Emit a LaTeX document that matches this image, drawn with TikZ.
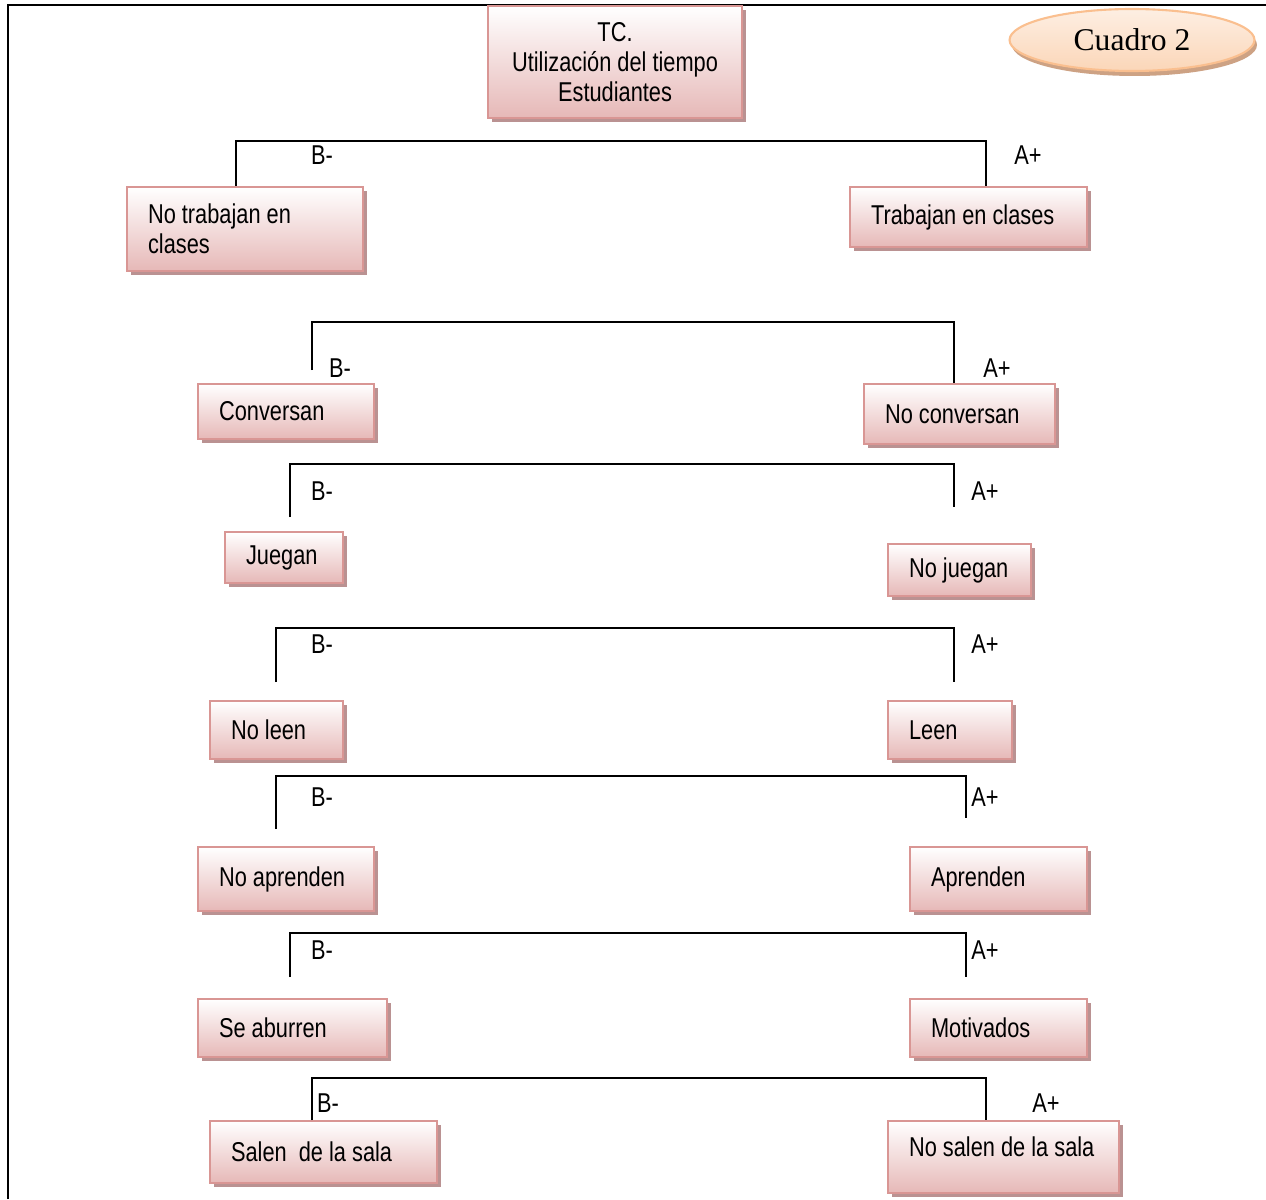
\documentclass[tikz,border=0pt]{standalone}
\usepackage{fontspec}
\usepackage{tikz}
\usetikzlibrary{shapes.geometric, shadows}
\newfontfamily\arialn[FakeStretch=0.8]{Liberation Sans}
\newfontfamily\timesf{Liberation Serif}
\newcommand\letrac{\arialn\fontsize{15.5}{17}\selectfont}
\definecolor{rosaborde}{RGB}{217, 150, 148}
\definecolor{rosafondo}{RGB}{230, 184, 183}
\definecolor{rosasombra}{RGB}{186, 146, 146}
\definecolor{durazno}{RGB}{250, 191, 143}
\definecolor{duraznofondo}{RGB}{251, 214, 184}
\definecolor{duraznosombra}{RGB}{205, 162, 132}
\tikzset{
  caja/.style={draw=rosaborde, line width=1.2pt, top color=white, bottom color=rosafondo,
    drop shadow={shadow xshift=0.08cm, shadow yshift=-0.08cm, fill=rosasombra, opacity=1},
    anchor=north west, inner xsep=0.42cm, inner ysep=0pt, align=flush left,
    execute at begin node={\hyphenpenalty=10000},
    font=\letrac},
  rama/.style={line width=1pt},
  signo/.style={inner sep=0pt, font=\letrac}
}
\begin{document}
\begin{tikzpicture}[x=0.02cm, y=-0.02cm]
\useasboundingbox (0,0) rectangle (1266,1199);
\draw[line width=1.5pt] (8,1199) -- (8,5) -- (1266,5);
\node[draw=durazno, line width=1.2pt, ellipse, top color=white!60!duraznofondo, bottom color=duraznofondo,
  drop shadow={shadow xshift=0.05cm, shadow yshift=-0.1cm, fill=duraznosombra, opacity=1},
  minimum width=4.9cm, minimum height=1.24cm, inner sep=0pt, font=\timesf\fontsize{18}{20}\selectfont]
  (cuadro) at (1132,40) {Cuadro 2};
\node[caja, align=flush center, text width=4.24cm, minimum height=2.24cm] (tc) at (487,5)
  {TC.\\Utilización del tiempo\\Estudiantes};

\node[caja, text width=3.88cm, minimum height=1.68cm] (noTrab) at (126,186) {No trabajan en\\clases};
\node[caja, text width=3.9cm, minimum height=1.2cm] (trab) at (849,186) {\mbox{Trabajan en clases}};
\draw[rama] (noTrab.north -| 236,0) -- ++(0,-45) -| (trab.north -| 986,0);
\node[signo] (b1) at (322,155) {B-};
\node[signo] (a1) at (1028,155) {A+};

\node[caja, text width=2.68cm, minimum height=1.1cm] (conv) at (197,383) {Conversan};
\node[caja, text width=2.98cm, minimum height=1.2cm] (noConv) at (863,383) {\mbox{No conversan}};
\coordinate (ramaB2) at (312,370);
\draw[rama] (ramaB2) -- ++(0,-48) -| (noConv.north -| 954,0);
\node[signo] (b2) at (340,368) {B-};
\node[signo] (a2) at (997,368) {A+};

\node[caja, text width=1.52cm, minimum height=1.02cm] (jueg) at (224,531) {Juegan};
\node[caja, text width=2.02cm, minimum height=1.04cm] (noJueg) at (887,543) {\mbox{No juegan}};
\coordinate (ramaB3) at (290,517);
\coordinate (ramaA3) at (954,507);
\draw[rama] (ramaB3) -- ++(0,-53) -| (ramaA3);
\node[signo] (b3) at (322,491) {B-};
\node[signo] (a3) at (985,491) {A+};

\node[caja, text width=1.82cm, minimum height=1.16cm] (noLeen) at (209,700) {\mbox{No leen}};
\node[caja, text width=1.64cm, minimum height=1.16cm] (leen) at (887,700) {Leen};
\coordinate (ramaB4) at (276,682);
\coordinate (ramaA4) at (954,682);
\draw[rama] (ramaB4) -- ++(0,-54) -| (ramaA4);
\node[signo] (b4) at (322,644) {B-};
\node[signo] (a4) at (985,644) {A+};

\node[caja, text width=2.68cm, minimum height=1.28cm] (noApr) at (197,846) {\mbox{No aprenden}};
\node[caja, text width=2.7cm, minimum height=1.28cm] (apr) at (909,846) {Aprenden};
\coordinate (ramaB5) at (276,829);
\coordinate (ramaA5) at (966,818);
\draw[rama] (ramaB5) -- ++(0,-53) -| (ramaA5);
\node[signo] (b5) at (322,797) {B-};
\node[signo] (a5) at (985,797) {A+};

\node[caja, text width=2.94cm, minimum height=1.16cm] (aburr) at (197,998) {\mbox{Se aburren}};
\node[caja, text width=2.7cm, minimum height=1.16cm] (motiv) at (909,998) {Motivados};
\coordinate (ramaB6) at (290,977);
\coordinate (ramaA6) at (966,977);
\draw[rama] (ramaB6) -- ++(0,-44) -| (ramaA6);
\node[signo] (b6) at (322,950) {B-};
\node[signo] (a6) at (985,950) {A+};

\node[caja, text width=3.7cm, minimum height=1.24cm] (salen) at (209,1120) {\mbox{Salen\ \ de la sala}};
\node[caja, text width=3.78cm, minimum height=1.44cm, text depth=0.42cm] (noSalen) at (887,1120) {\mbox{No salen de la sala}};
\draw[rama] (salen.north -| 312,0) -- ++(0,-42) -| (noSalen.north -| 986,0);
\node[signo] (b7) at (328,1103) {B-};
\node[signo] (a7) at (1046,1103) {A+};
\end{tikzpicture}
\end{document}
